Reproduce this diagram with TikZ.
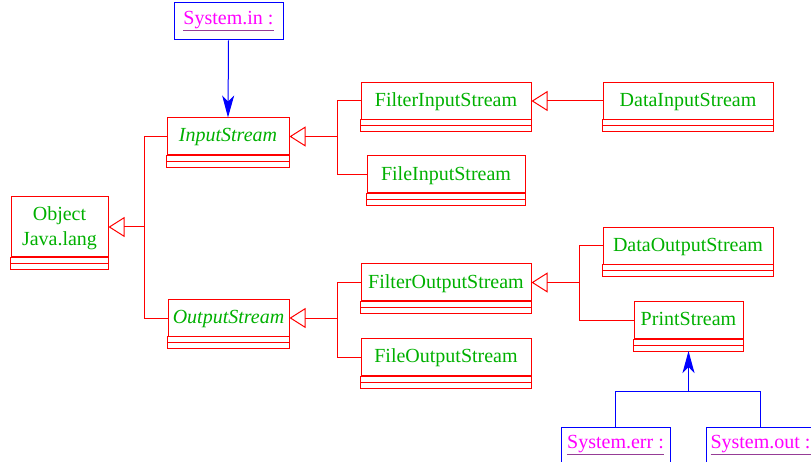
\documentclass[tikz,border=0pt]{standalone}
\usepackage{fontspec}
\setmainfont{Liberation Serif}
\usetikzlibrary{arrows.meta}
\definecolor{clsred}{RGB}{255,0,0}
\definecolor{txtgreen}{RGB}{0,176,0}
\definecolor{objmag}{RGB}{255,0,255}
\definecolor{ulpurple}{RGB}{150,60,150}
\definecolor{depblue}{RGB}{0,0,255}
\tikzset{
 cls/.style={draw=clsred, line width=1pt, inner sep=0pt, text=txtgreen, font=\fontsize{20}{25}\selectfont, align=center, text depth=2.5pt},
 objbox/.style={draw=depblue, line width=1pt, inner sep=0pt, font=\fontsize{20}{25}\selectfont, minimum height=37pt, minimum width=109pt},
 rl/.style={draw=clsred, line width=1pt},
 gen/.style={rl, -{Triangle[open, length=16pt, width=20pt]}},
 bl/.style={draw=depblue, line width=1pt},
 dep/.style={bl, -{Stealth[length=22pt, width=12pt, inset=6pt]}},
}
\newcommand\classbox[6]{%
 \node[cls, minimum width=#4pt, minimum height=#5pt] (#1) at (#2,#3) {#6};
 \draw[rl] (#1.south west) rectangle ([yshift=-6pt]#1.south east);
 \draw[rl] ([yshift=-6pt]#1.south west) rectangle ([yshift=-12pt]#1.south east);
}
\newcommand\objlabel[1]{{\color{ulpurple}\underline{\textcolor{objmag}{#1}}}}
\begin{document}
\begin{tikzpicture}[x=1pt,y=-1pt]
\clip (0,0) rectangle (811,462);
% classes
\classbox{Object}{59.5}{227}{97}{60}{Object\\Java.lang}
\classbox{InStr}{228}{136.5}{122}{37}{\textit{InputStream}}
\classbox{OutStr}{228.5}{318}{121}{36}{\textit{OutputStream}}
\classbox{FilterIn}{446}{101}{170}{37}{FilterInputStream}
\classbox{DataIn}{688}{101}{170}{37}{DataInputStream}
\classbox{FileIn}{446}{174.5}{158}{37}{FileInputStream}
\classbox{FilterOut}{446}{282.5}{170}{37}{FilterOutputStream}
\classbox{FileOut}{446}{357}{170}{37}{FileOutputStream}
\classbox{DataOut}{688}{246}{170}{37}{DataOutputStream}
\classbox{PrintS}{688.5}{320}{109}{37}{PrintStream}
% objects
\node[objbox] (SysIn) at (228.5,21.5) {\objlabel{System.in :}};
\node[objbox] (SysErr) at (615.5,445.5) {\objlabel{System.err :}};
\node[objbox] (SysOut) at (760.5,445.5) {\objlabel{System.out :}};
% bus coordinates
\coordinate (bo) at (144,0);
\coordinate (bi) at (337,0);
\coordinate (bfo) at (579,0);
\coordinate (jy) at (0,391);
% generalisations
\draw[gen] (Object.east -| bo) -- (Object.east);
\draw[rl] (InStr.west) -- (InStr.west -| bo) -- (OutStr.west -| bo) -- (OutStr.west);
\draw[gen] (InStr.east -| bi) -- (InStr.east);
\draw[rl] (FilterIn.west) -- (FilterIn.west -| bi) -- (FileIn.west -| bi) -- (FileIn.west);
\draw[gen] (OutStr.east -| bi) -- (OutStr.east);
\draw[rl] (FilterOut.west) -- (FilterOut.west -| bi) -- (FileOut.west -| bi) -- (FileOut.west);
\draw[gen] (DataIn.west) -- (FilterIn.east);
\draw[gen] (FilterOut.east -| bfo) -- (FilterOut.east);
\draw[rl] (DataOut.west) -- (DataOut.west -| bfo) -- (PrintS.west -| bfo) -- (PrintS.west);
% dependencies
\draw[dep] (SysIn.south) -- (InStr.north);
\draw[bl] (SysErr.north) -- (SysErr.north |- jy) -- (SysOut.north |- jy) -- (SysOut.north);
\draw[dep] (PrintS.south |- jy) -- ([yshift=-12pt]PrintS.south);
\end{tikzpicture}
\end{document}
